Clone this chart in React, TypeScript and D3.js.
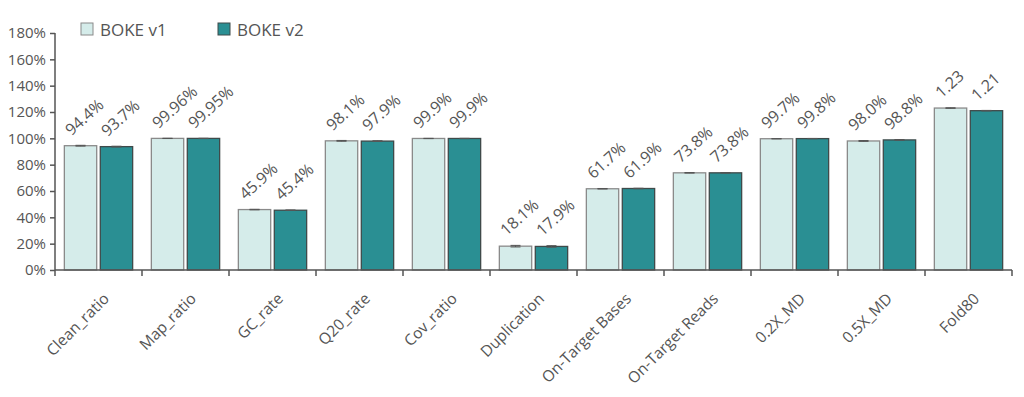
import React, { useRef, useEffect } from 'react';
import * as d3 from 'd3';

const categories = ['Clean_ratio', 'Map_ratio', 'GC_rate', 'Q20_rate', 'Cov_ratio', 'Duplication',
    'On-Target Bases', 'On-Target Reads', '0.2X_MD', '0.5X_MD', 'Fold80'];
const seriesNames = ['BOKE v1', 'BOKE v2'];
const v1Values = [94.4, 99.96, 45.9, 98.1, 99.9, 18.1, 61.7, 73.8, 99.7, 98.0, 123];
const v2Values = [93.7, 99.95, 45.4, 97.9, 99.9, 17.9, 61.9, 73.8, 99.8, 98.8, 121];
const v1Labels = ['94.4%', '99.96%', '45.9%', '98.1%', '99.9%', '18.1%', '61.7%', '73.8%', '99.7%', '98.0%', '1.23'];
const v2Labels = ['93.7%', '99.95%', '45.4%', '97.9%', '99.9%', '17.9%', '61.9%', '73.8%', '99.8%', '98.8%', '1.21'];
const v1Errors = [0.3, 0.1, 0.2, 0.3, 0.1, 0.6, 0.2, 0.2, 0.1, 0.3, 0.2];
const v2Errors = [0.3, 0.1, 0.2, 0.3, 0.1, 0.6, 0.2, 0.2, 0.1, 0.3, 0.2];
const yTicks = [0, 20, 40, 60, 80, 100, 120, 140, 160, 180];
const colors = ['#d5ecea', '#2a8f93'];
const strokes = ['#8a8a8a', '#3f4a4a'];

const App = () => {
    const svgRef = useRef(null);

    useEffect(() => {
        const svg = d3.select(svgRef.current);
        svg.selectAll('*').remove();

        const font = '"Open Sans", "Noto Sans", sans-serif';
        const x0 = 55, x1 = 1012, yTop = 33, yBottom = 270;

        const x = d3.scaleBand().domain(categories).range([x0, x1]).paddingInner(0).paddingOuter(0);
        const xs = d3.scaleBand().domain(seriesNames).range([0, x.bandwidth()]).paddingInner(0.1).paddingOuter(0.26);
        const y = d3.scaleLinear().domain([0, 180]).range([yBottom, yTop]);

        const data = categories.map((c, i) => ({
            cat: c,
            vals: [
                { s: 0, v: v1Values[i], e: v1Errors[i], label: v1Labels[i] },
                { s: 1, v: v2Values[i], e: v2Errors[i], label: v2Labels[i] },
            ],
        }));

        const groups = svg.append('g').selectAll('g').data(data).enter().append('g')
            .attr('transform', d => `translate(${x(d.cat)},0)`);

        groups.selectAll('rect').data(d => d.vals).enter().append('rect')
            .attr('x', d => xs(seriesNames[d.s]))
            .attr('y', d => y(d.v))
            .attr('width', xs.bandwidth())
            .attr('height', d => yBottom - y(d.v))
            .attr('fill', d => colors[d.s])
            .attr('stroke', d => strokes[d.s])
            .attr('stroke-width', 1.3);

        // error bars
        const eb = groups.selectAll('g.err').data(d => d.vals).enter().append('g').attr('class', 'err')
            .attr('stroke', '#555').attr('stroke-width', 1);
        eb.append('line')
            .attr('x1', d => xs(seriesNames[d.s]) + xs.bandwidth() / 2)
            .attr('x2', d => xs(seriesNames[d.s]) + xs.bandwidth() / 2)
            .attr('y1', d => y(d.v - d.e)).attr('y2', d => y(d.v + d.e));
        eb.append('line')
            .attr('x1', d => xs(seriesNames[d.s]) + xs.bandwidth() / 2 - 5)
            .attr('x2', d => xs(seriesNames[d.s]) + xs.bandwidth() / 2 + 5)
            .attr('y1', d => y(d.v + d.e)).attr('y2', d => y(d.v + d.e));
        eb.append('line')
            .attr('x1', d => xs(seriesNames[d.s]) + xs.bandwidth() / 2 - 5)
            .attr('x2', d => xs(seriesNames[d.s]) + xs.bandwidth() / 2 + 5)
            .attr('y1', d => y(d.v - d.e)).attr('y2', d => y(d.v - d.e));

        // value labels
        groups.selectAll('text.val').data(d => d.vals).enter().append('text')
            .attr('class', 'val')
            .attr('transform', d => `translate(${xs(seriesNames[d.s]) + xs.bandwidth() / 2 - 9},${y(d.v + d.e) - 9}) rotate(-42)`)
            .attr('font-family', font)
            .attr('font-size', 16)
            .attr('fill', '#555')
            .text(d => d.label);

        // y axis
        const yAxis = svg.append('g').attr('transform', `translate(${x0},0)`)
            .call(d3.axisLeft(y).tickValues(yTicks).tickSize(5).tickFormat(d => `${d}%`));
        yAxis.select('.domain').attr('stroke', '#555').attr('stroke-width', 1.5)
            .attr('d', `M0,${yTop}V${yBottom}`);
        yAxis.selectAll('.tick line').attr('stroke', '#555').attr('stroke-width', 1.5);
        yAxis.selectAll('.tick text').attr('font-family', font).attr('font-size', 15)
            .attr('fill', '#555').attr('x', -9);

        // x axis
        const xAxis = svg.append('g').attr('transform', `translate(0,${yBottom})`);
        xAxis.append('line').attr('x1', x0).attr('x2', x1).attr('stroke', '#555').attr('stroke-width', 1.5);
        xAxis.selectAll('line.tk').data([...categories.map(c => x(c)), x1]).enter().append('line')
            .attr('class', 'tk')
            .attr('x1', d => d).attr('x2', d => d).attr('y1', 0).attr('y2', 6)
            .attr('stroke', '#555').attr('stroke-width', 1.5);
        xAxis.selectAll('text').data(categories).enter().append('text')
            .attr('transform', c => `translate(${x(c) + x.bandwidth() / 2 + 4},${22}) rotate(-45)`)
            .attr('text-anchor', 'end')
            .attr('dy', '0.7em')
            .attr('font-family', font)
            .attr('font-size', 15.5)
            .attr('fill', '#555')
            .text(c => c);

        // legend
        const legend = svg.append('g');
        const lx = [81, 218];
        seriesNames.forEach((s, i) => {
            legend.append('rect').attr('x', lx[i]).attr('y', 23).attr('width', 12).attr('height', 12)
                .attr('fill', colors[i]).attr('stroke', strokes[i]).attr('stroke-width', 1);
            legend.append('text').attr('x', lx[i] + 19).attr('y', 36)
                .attr('font-family', font).attr('font-size', 17).attr('fill', '#555').text(s);
        });
    }, []);

    return (
        <svg ref={svgRef} width={1024} height={397}
            style={{ position: 'absolute', left: 0, top: 0, background: '#fff' }}></svg>
    );
};

export default App;
